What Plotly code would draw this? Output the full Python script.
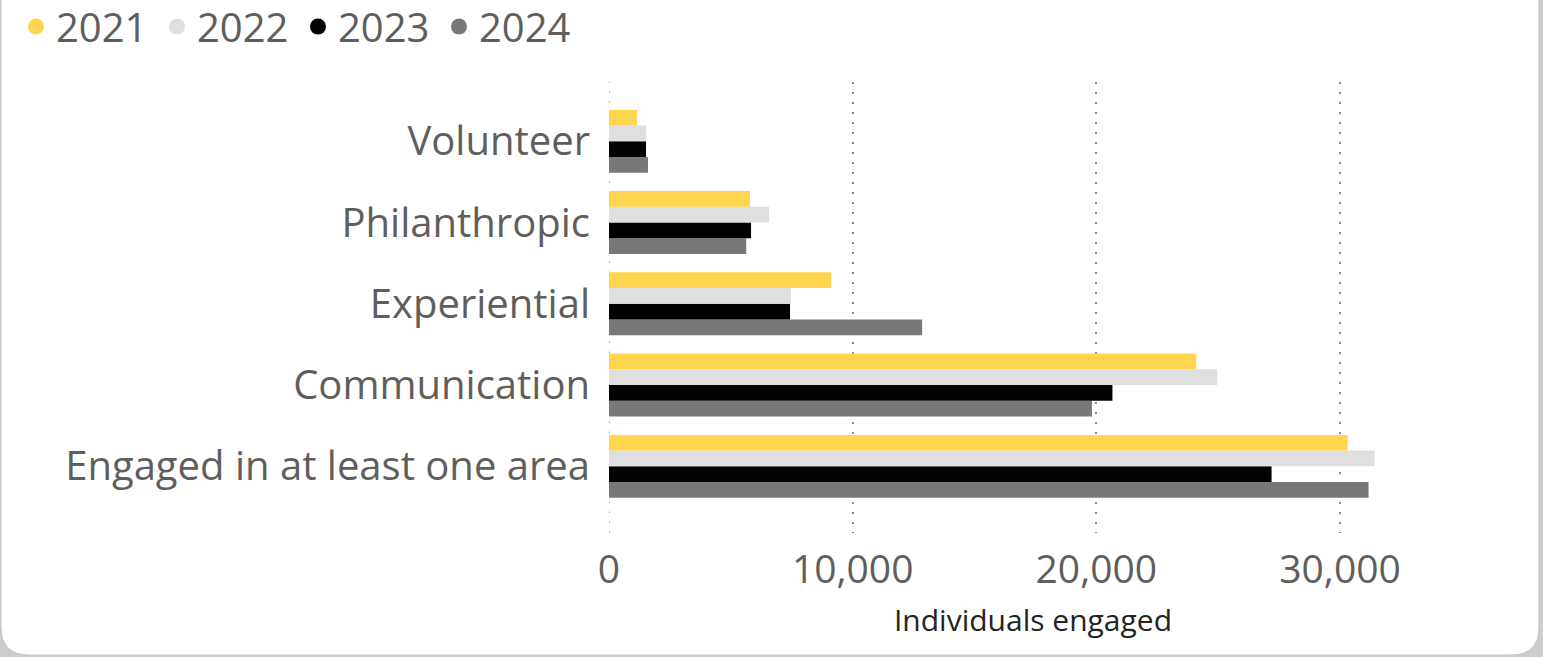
import plotly.graph_objects as go

categories = ["Engaged in at least one area", "Communication", "Experiential", "Philanthropic", "Volunteer"]
years = ["2021", "2022", "2023", "2024"]
v2021 = [30310, 24100, 9120, 5790, 1150]
v2022 = [31420, 24960, 7470, 6570, 1520]
v2023 = [27190, 20660, 7430, 5830, 1520]
v2024 = [31170, 19820, 12850, 5630, 1600]
x_ticks = [0, 10000, 20000, 30000]
x_tick_labels = ["0", "10,000", "20,000", "30,000"]

series = {"2021": v2021, "2022": v2022, "2023": v2023, "2024": v2024}
colors = {"2021": "#FFD54F", "2022": "#DFDFDF", "2023": "#020202", "2024": "#787878"}

W, H = 1543, 657
ML, MR, MT, MB = 609, 86, 82, 124
PW, PH = W - ML - MR, H - MT - MB

FONT = "Open Sans"
TXT = "#605e5c"
GRID = "#8c8c8c"
GRID_DASH = "1.5px,8.5px"

fig = go.Figure()

# legend entries (circle markers)
for y in years:
    fig.add_trace(go.Scatter(x=[None], y=[None], mode="markers", name=y,
                             marker=dict(color=colors[y], size=16, symbol="circle"),
                             showlegend=True, hoverinfo="skip"))

# bars: add in reverse so 2021 is on top within each group
for y in reversed(years):
    fig.add_trace(go.Bar(x=series[y], y=categories, orientation="h", name=y,
                         marker=dict(color=colors[y], line=dict(width=0)),
                         showlegend=False))

def fx(px):
    return (px - ML) / PW

def fy(py):
    return (H - MB - py) / PH

x0, x1, ytop, ybot, r = 1, 1539, -40, 655, 28
path = (f"M {fx(x0)},{fy(ytop)} L {fx(x0)},{fy(ybot - r)} "
        f"Q {fx(x0)},{fy(ybot)} {fx(x0 + r)},{fy(ybot)} "
        f"L {fx(x1 - r)},{fy(ybot)} "
        f"Q {fx(x1)},{fy(ybot)} {fx(x1)},{fy(ybot - r)} "
        f"L {fx(x1)},{fy(ytop)} Z")

fig.update_layout(
    width=W, height=H,
    margin=dict(l=ML, r=MR, t=MT, b=MB, pad=0, autoexpand=False),
    paper_bgcolor="#cdcdcd",
    plot_bgcolor="rgba(0,0,0,0)",
    barmode="group",
    bargap=0.225,
    bargroupgap=0,
    font=dict(family=FONT, color=TXT),
    shapes=[
        dict(type="path", path=path, xref="paper", yref="paper",
             fillcolor="white", line=dict(color="#c4c4c4", width=1), layer="below"),
        dict(type="line", xref="x", yref="paper", x0=x_ticks[0], x1=x_ticks[0], y0=0, y1=1,
             line=dict(color=GRID, width=1.5, dash=GRID_DASH), layer="below"),
    ],
    legend=dict(orientation="h", x=fx(16), y=fy(-6), xanchor="left", yanchor="top",
                font=dict(size=40, color=TXT, family=FONT), bgcolor="rgba(0,0,0,0)",
                itemsizing="trace", traceorder="normal", entrywidth=96),
    xaxis=dict(range=[0, 34800], tickvals=x_ticks, ticktext=x_tick_labels,
               showgrid=True, gridcolor=GRID, griddash=GRID_DASH, gridwidth=1.5,
               zeroline=False, showline=False, ticks="",
               tickfont=dict(size=39, color=TXT, family=FONT), ticklabelstandoff=10,
               title=dict(text="Individuals engaged", font=dict(size=30, color="#252423", family=FONT),
                          standoff=16)),
    yaxis=dict(range=[-0.82, 4.73], type="category", showgrid=False, zeroline=False,
               showline=False, ticks="", tickfont=dict(size=40, color=TXT, family=FONT),
               ticklabelstandoff=18),
)

fig.write_html("out.html")
